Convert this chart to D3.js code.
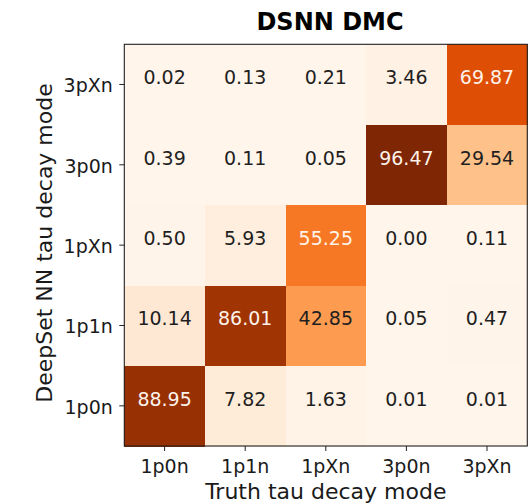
<!DOCTYPE html>
<html>
<head>
<meta charset="utf-8">
<script src="https://cdn.jsdelivr.net/npm/d3@7"></script>
<style>
  html, body { margin: 0; padding: 0; background: #ffffff; }
  svg { display: block; }
  text { font-family: "DejaVu Sans", sans-serif; }
</style>
</head>
<body>
<svg id="chart" width="531" height="504"></svg>
<script>
// Decay-mode categories (truth on x, predicted on y, bottom to top)
const truthModes = ["1p0n", "1p1n", "1pXn", "3p0n", "3pXn"];
const predModes = ["1p0n", "1p1n", "1pXn", "3p0n", "3pXn"];

// Row-wise percentages, one array per predicted mode, columns follow truthModes
const row1p0n = [88.95, 7.82, 1.63, 0.01, 0.01];
const row1p1n = [10.14, 86.01, 42.85, 0.05, 0.47];
const row1pXn = [0.50, 5.93, 55.25, 0.00, 0.11];
const row3p0n = [0.39, 0.11, 0.05, 96.47, 29.54];
const row3pXn = [0.02, 0.13, 0.21, 3.46, 69.87];
const rows = [row1p0n, row1p1n, row1pXn, row3p0n, row3pXn];

const titleText = "DSNN DMC";
const xLabel = "Truth tau decay mode";
const yLabel = "DeepSet NN tau decay mode";

const cells = [];
rows.forEach((r, i) => r.forEach((v, j) => cells.push({ pred: predModes[i], truth: truthModes[j], value: v })));

const svg = d3.select("#chart");
const plot = { left: 124.3, right: 527.3, top: 44.3, bottom: 446 };

const x = d3.scaleBand().domain(truthModes).range([plot.left, plot.right]).padding(0);
const y = d3.scaleBand().domain(predModes).range([plot.bottom, plot.top]).padding(0);

// Oranges colour map: linear ramp through the nine ColorBrewer stops
const orangeStops = ["#fff5eb", "#fee6ce", "#fdd0a2", "#fdae6b", "#fd8d3c", "#f16913", "#d94801", "#a63603", "#7f2704"];
const vmax = d3.max(cells, d => d.value);
const color = d3.scaleLinear()
  .domain(orangeStops.map((_, i) => vmax * i / (orangeStops.length - 1)))
  .range(orangeStops)
  .interpolate(d3.interpolateRgb);

// Heatmap cells
svg.append("g")
  .selectAll("rect")
  .data(cells)
  .join("rect")
  .attr("x", d => x(d.truth))
  .attr("y", d => y(d.pred))
  .attr("width", x.bandwidth() + 0.5)
  .attr("height", y.bandwidth() + 0.5)
  .attr("fill", d => color(d.value))
  .attr("shape-rendering", "crispEdges");

// Cell annotations, baseline at the cell centre
svg.append("g")
  .selectAll("text")
  .data(cells)
  .join("text")
  .attr("x", d => x(d.truth) + x.bandwidth() / 2)
  .attr("y", d => y(d.pred) + y.bandwidth() / 2)
  .attr("text-anchor", "middle")
  .attr("font-size", 19)
  .attr("fill", d => d.value > vmax / 2 ? "#fdf3ea" : "#1f1f1f")
  .text(d => d.value.toFixed(2));

// Frame
svg.append("rect")
  .attr("x", plot.left)
  .attr("y", plot.top)
  .attr("width", plot.right - plot.left)
  .attr("height", plot.bottom - plot.top)
  .attr("fill", "none")
  .attr("stroke", "#222")
  .attr("stroke-width", 1.1);

// Axes
const xAxis = svg.append("g")
  .attr("transform", `translate(0,${plot.bottom})`)
  .call(d3.axisBottom(x).tickSize(5).tickPadding(4));
const yAxis = svg.append("g")
  .attr("transform", `translate(${plot.left},0)`)
  .call(d3.axisLeft(y).tickSize(5).tickPadding(5));

[xAxis, yAxis].forEach(g => {
  g.select(".domain").remove();
  g.selectAll(".tick line").attr("stroke", "#222").attr("stroke-width", 1);
  g.selectAll(".tick text")
    .attr("font-family", "DejaVu Sans, sans-serif")
    .attr("font-size", 19)
    .attr("fill", "#1a1a1a");
});
xAxis.selectAll(".tick text").attr("dy", null).attr("y", 27.3);
yAxis.selectAll(".tick text").attr("dy", null).attr("y", 8).attr("x", -11.5);

// Axis titles
svg.append("text")
  .attr("x", (plot.left + plot.right) / 2)
  .attr("y", 499)
  .attr("text-anchor", "middle")
  .attr("font-size", 22)
  .attr("fill", "#1a1a1a")
  .text(xLabel);

svg.append("text")
  .attr("transform", "translate(52,243) rotate(-90)")
  .attr("text-anchor", "middle")
  .attr("font-size", 22)
  .attr("fill", "#1a1a1a")
  .text(yLabel);

// Title
svg.append("text")
  .attr("x", 330)
  .attr("y", 30)
  .attr("text-anchor", "middle")
  .attr("font-size", 24)
  .attr("font-weight", "bold")
  .attr("fill", "#000")
  .text(titleText);
</script>
</body>
</html>
